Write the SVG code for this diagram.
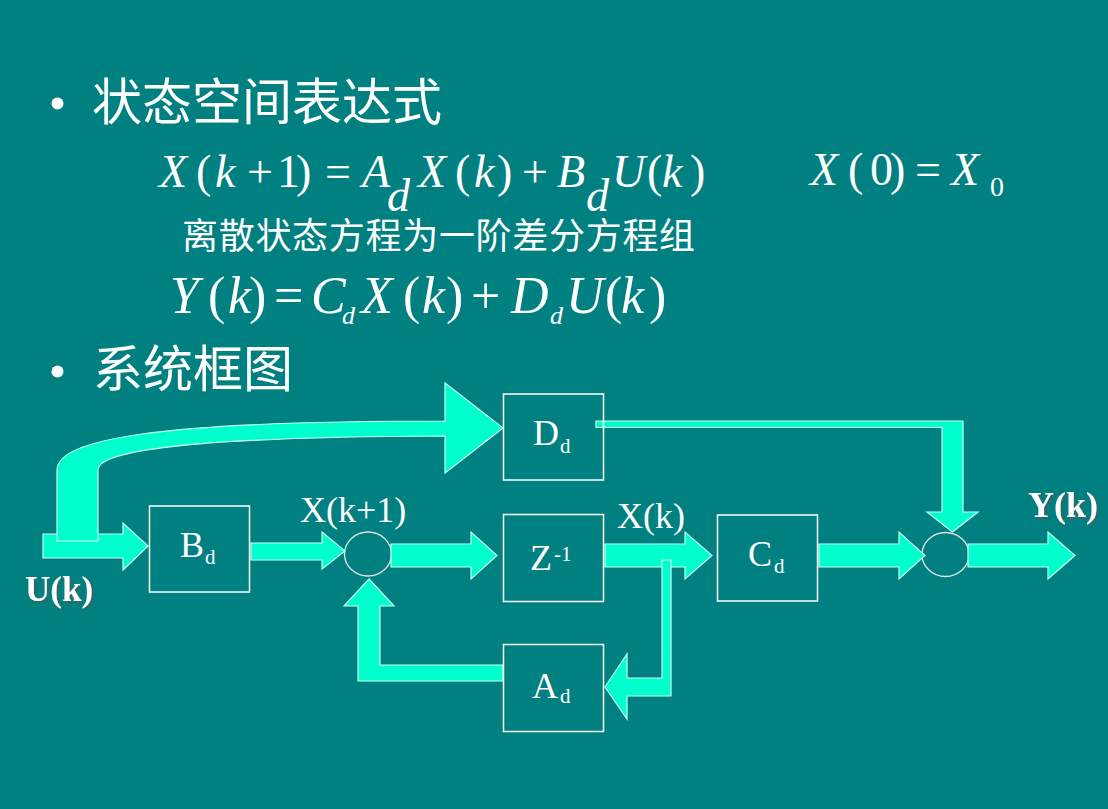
<svg xmlns="http://www.w3.org/2000/svg" width="1108" height="809" viewBox="0 0 1108 809">
<defs>
<style>
.bg{fill:#008080}
.arr{fill:#00FFCC;stroke:#C8FFF0;stroke-width:1.2;stroke-linejoin:miter}
.box{fill:none;stroke:#FFFFFF;stroke-width:1.5}
.sum{fill:none;stroke:#E6E6E6;stroke-width:1.3}
.lbl{font-family:"Liberation Serif","Times New Roman",serif;fill:#FFFFFF}
.m{font-family:"Liberation Serif","Times New Roman",serif;fill:#FFFFFF}
.i{font-style:italic}
.cjk{font-family:"Noto Sans CJK SC","Noto Sans",sans-serif;fill:#FFFFFF}
.bold{font-weight:bold}
</style>
<filter id="sh" x="-20%" y="-20%" width="140%" height="140%">
<feDropShadow dx="1.5" dy="1.5" stdDeviation="0.8" flood-color="#555555" flood-opacity="0.8"/>
</filter>
</defs>
<rect class="bg" x="0" y="0" width="1108" height="809"/>

<g id="text-header">
<circle cx="57.5" cy="103.5" r="6" fill="#FFFFFF"/>
<text class="cjk" x="92" y="120" font-size="50">状态空间表达式</text>
<circle cx="57.5" cy="371.5" r="6" fill="#FFFFFF"/>
<text class="cjk" x="93" y="387" font-size="50">系统框图</text>
<text class="cjk" x="182" y="249" font-size="36" letter-spacing="0.7">离散状态方程为一阶差分方程组</text>
</g>

<g id="eq1" class="m" font-size="46">
<text class="i" x="159" y="187">X</text>
<text x="196" y="187">(</text>
<text class="i" x="215" y="187">k</text>
<text x="247" y="187">+</text>
<text x="277" y="187">1</text>
<text x="296" y="187">)</text>
<text x="325" y="187">=</text>
<text class="i" x="362" y="187">A</text>
<text class="i" x="387" y="211">d</text>
<text class="i" x="418" y="187">X</text>
<text x="455" y="187">(</text>
<text class="i" x="474" y="187">k</text>
<text x="497" y="187">)</text>
<text x="522" y="187">+</text>
<text class="i" x="557" y="187">B</text>
<text class="i" x="586" y="211">d</text>
<text class="i" x="612" y="187">U</text>
<text x="647" y="187">(</text>
<text class="i" x="662" y="187">k</text>
<text x="690" y="187">)</text>
</g>

<g id="eq0" class="m" font-size="46">
<text class="i" x="810" y="185">X</text>
<text x="848" y="185">(</text>
<text x="870" y="185">0</text>
<text x="890" y="185">)</text>
<text x="915" y="185">=</text>
<text class="i" x="951" y="185">X</text>
<text x="990" y="196" font-size="28">0</text>
</g>

<g id="eq2" class="m" font-size="52">
<text class="i" x="170" y="313">Y</text>
<text x="208" y="313">(</text>
<text class="i" x="228" y="313">k</text>
<text x="249" y="313">)</text>
<text x="274" y="313">=</text>
<text class="i" x="311" y="313">C</text>
<text class="i" x="342" y="324" font-size="26">d</text>
<text class="i" x="361" y="313">X</text>
<text x="403" y="313">(</text>
<text class="i" x="422" y="313">k</text>
<text x="446" y="313">)</text>
<text x="471" y="313">+</text>
<text class="i" x="511" y="313">D</text>
<text class="i" x="550" y="324" font-size="26">d</text>
<text class="i" x="566" y="313">U</text>
<text x="605" y="313">(</text>
<text class="i" x="621" y="313">k</text>
<text x="649" y="313">)</text>
</g>

<g id="sum1"><ellipse class="sum" cx="368" cy="554" rx="23.5" ry="22"/></g>
<g id="sum2"><ellipse class="sum" cx="945.5" cy="554.5" rx="23.5" ry="22"/></g>

<g id="connectors">
<path class="arr" d="M43,534 L123,534 L123,523 L148,546 L123,570 L123,558 L43,558 Z"/>
<path class="arr" d="M57,541 L57,470 C57,440 150,421 445,421 L445,383 L503,428 L445,473 L445,436 C180,437 98,452 98,470 L98,541 Z"/>
<path class="arr" d="M251,543 L322,543 L322,532 L345,551 L322,569 L322,560 L251,560 Z"/>
<path class="arr" d="M391,544 L471,544 L471,532 L497,555.5 L471,579 L471,567 L391,567 Z"/>
<path class="arr" d="M605,544 L685,544 L685,532 L712,555.5 L685,579 L685,567 L605,567 Z"/>
<path class="arr" d="M662,560 L671,560 L671,696 L627,696 L627,719 L605,687 L627,654 L627,678 L662,678 Z"/>
<path class="arr" d="M503,665 L380,665 L380,606 L394,606 L369,579 L344,606 L358,606 L358,681 L503,681 Z"/>
<path class="arr" d="M596,421 L963,421 L963,512 L978,512 L952.5,532 L927,512 L942,512 L942,427.5 L596,427.5 Z"/>
<path class="arr" d="M819,544 L899,544 L899,532 L925,555.5 L899,579 L899,567 L819,567 Z"/>
<path class="arr" d="M968,544 L1048,544 L1048,532 L1075,555.5 L1048,579 L1048,567 L968,567 Z"/>
</g>

<g id="node-Dd">
<rect class="box" x="503.5" y="394" width="100" height="86"/>
<text class="lbl" x="533" y="445" font-size="36">D</text>
<text class="lbl" x="560" y="453" font-size="21">d</text>
</g>
<g id="node-Bd">
<rect class="box" x="149.5" y="506" width="100" height="86"/>
<text class="lbl" x="180" y="557" font-size="36">B</text>
<text class="lbl" x="205" y="564" font-size="21">d</text>
</g>
<g id="node-Z">
<rect class="box" x="503.5" y="514.5" width="100" height="87"/>
<text class="lbl" x="530" y="570" font-size="36">Z</text>
<text class="lbl" x="554" y="561" font-size="21">-1</text>
</g>
<g id="node-Ad">
<rect class="box" x="503.5" y="644.5" width="100" height="87"/>
<text class="lbl" x="532" y="698" font-size="36">A</text>
<text class="lbl" x="560" y="703" font-size="21">d</text>
</g>
<g id="node-Cd">
<rect class="box" x="717.5" y="515" width="100" height="86"/>
<text class="lbl" x="748" y="566" font-size="36">C</text>
<text class="lbl" x="774" y="573" font-size="21">d</text>
</g>

<g id="labels">
<text class="lbl" x="300" y="522" font-size="36">X(k+1)</text>
<text class="lbl" x="617" y="528" font-size="36">X(k)</text>
<text class="lbl bold" x="25" y="601" font-size="35" filter="url(#sh)">U(k)</text>
<text class="lbl bold" x="1028" y="517" font-size="36" filter="url(#sh)">Y(k)</text>
</g>
</svg>
